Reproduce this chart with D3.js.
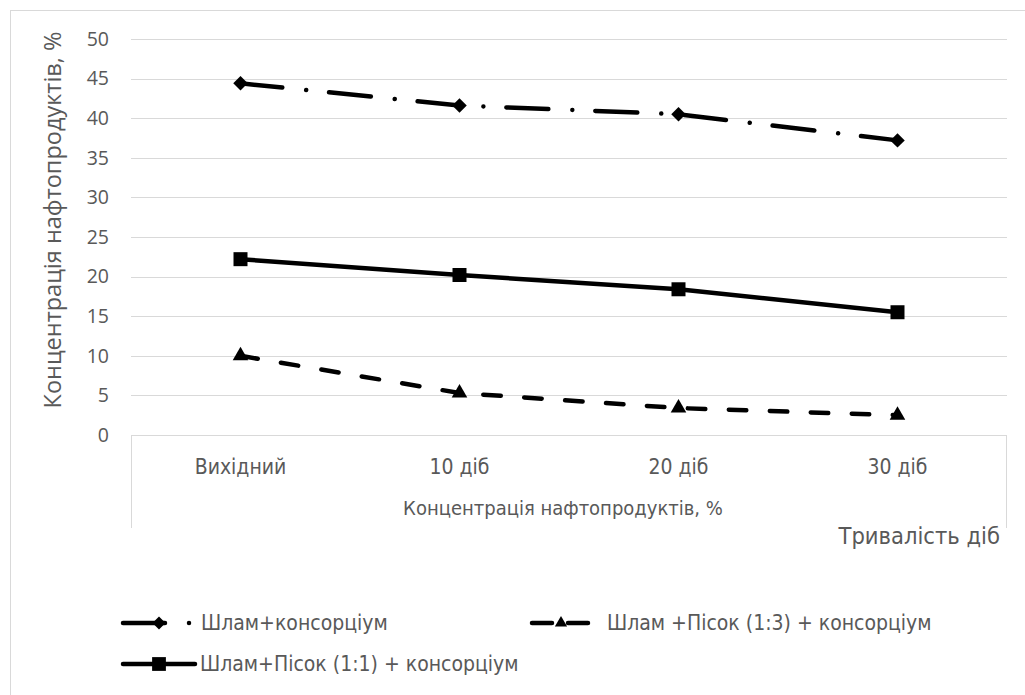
<!DOCTYPE html>
<meta charset="utf-8">
<script src="https://cdn.jsdelivr.net/npm/d3@7"></script>
<style>
body { margin: 0; background: #fff; }
.axis-text { fill: #595959; }
.tick-y { font-family: "Open Sans", sans-serif; font-size: 19.5px; }
.title-y { font-family: "Open Sans", sans-serif; font-size: 23.5px; }
.cat { font-family: "Liberation Sans Narrow", "DejaVu Sans Condensed", sans-serif; font-size: 21px; }
.cat-title { font-family: "Liberation Sans Narrow", "DejaVu Sans Condensed", sans-serif; font-size: 20px; }
.cat-title2 { font-family: "Liberation Sans Narrow", "DejaVu Sans Condensed", sans-serif; font-size: 23.5px; }
.leg { font-family: "Liberation Sans Narrow", "DejaVu Sans Condensed", sans-serif; font-size: 21px; fill: #595959; }
</style>
<body>
<div id="chart"></div>
<script>
// ---------------- data ----------------
const categories = ["Вихідний", "10 діб", "20 діб", "30 діб"];
const yTicks = [0, 5, 10, 15, 20, 25, 30, 35, 40, 45, 50];
const slamValues = [44.4, 41.6, 40.5, 37.2];        // Шлам+консорціум
const sand13Values = [10.0, 5.3, 3.4, 2.5];         // Шлам +Пісок (1:3) + консорціум
const sand11Values = [22.2, 20.2, 18.4, 15.5];      // Шлам+Пісок (1:1) + консорціум
const seriesNames = ["Шлам+консорціум", "Шлам +Пісок (1:3) + консорціум", "Шлам+Пісок (1:1) + консорціум"];
const yTitle = "Концентрація нафтопродуктів, %";
const xTitle = "Концентрація нафтопродуктів, %";
const xTitle2 = "Тривалість діб";

// ---------------- layout ----------------
const W = 1025, H = 695;
const plot = {left: 131, right: 1007, top: 39, bottom: 435};
const lineW = 4.5;

const series = [
  {name: seriesNames[0], values: slamValues, dash: "42,24,0.01,23", marker: "diamond", legDash: "42,24,0.01,23", legOffset: 0, textDx: 78},
  {name: seriesNames[1], values: sand13Values, dash: "17.5,23.5", marker: "triangle", legDash: "20,16", legOffset: -7, textDx: 82},
  {name: seriesNames[2], values: sand11Values, dash: null, marker: "square", legDash: null, legOffset: 0, textDx: 77}
];

const svg = d3.select("#chart").append("svg")
    .attr("width", W)
    .attr("height", H);

// chart border (only top and left edges fall inside the picture)
svg.append("rect")
    .attr("x", 10.5).attr("y", 10.5)
    .attr("width", W + 20).attr("height", H + 20)
    .attr("fill", "#fff")
    .attr("stroke", "#d9d9d9");

const x = d3.scaleBand().domain(categories).range([plot.left, plot.right]);
const y = d3.scaleLinear().domain([0, 50]).range([plot.bottom, plot.top]);
const cx = c => x(c) + x.bandwidth() / 2;

// gridlines
svg.append("g")
  .selectAll("line")
  .data(yTicks)
  .enter().append("line")
    .attr("x1", plot.left).attr("x2", plot.right)
    .attr("y1", d => Math.round(y(d)) + 0.5)
    .attr("y2", d => Math.round(y(d)) + 0.5)
    .attr("stroke", "#d9d9d9")
    .attr("stroke-width", 1);

// y tick labels
svg.append("g")
  .selectAll("text")
  .data(yTicks)
  .enter().append("text")
    .attr("class", "axis-text tick-y")
    .attr("x", 109)
    .attr("y", d => y(d))
    .attr("dy", "0.35em")
    .attr("text-anchor", "end")
    .text(d => d);

// y title
svg.append("text")
    .attr("class", "axis-text title-y")
    .attr("transform", "translate(61,220) rotate(-90)")
    .attr("text-anchor", "middle")
    .text(yTitle);

// category box (multi level axis)
const box = svg.append("g").attr("stroke", "#d9d9d9").attr("stroke-width", 1);
box.append("line").attr("x1", plot.left + 0.5).attr("x2", plot.left + 0.5).attr("y1", plot.bottom).attr("y2", 528);
box.append("line").attr("x1", plot.right - 0.5).attr("x2", plot.right - 0.5).attr("y1", plot.bottom).attr("y2", 528);

svg.append("g")
  .selectAll("text")
  .data(categories)
  .enter().append("text")
    .attr("class", "axis-text cat")
    .attr("x", d => cx(d))
    .attr("y", 474)
    .attr("text-anchor", "middle")
    .text(d => d);

svg.append("text")
    .attr("class", "axis-text cat-title")
    .attr("x", (plot.left + plot.right) / 2 - 6)
    .attr("y", 515)
    .attr("text-anchor", "middle")
    .text(xTitle);

svg.append("text")
    .attr("class", "axis-text cat-title2")
    .attr("x", 1000)
    .attr("y", 544)
    .attr("text-anchor", "end")
    .text(xTitle2);

// ---------------- lines ----------------
const line = d3.line()
    .x((d, i) => cx(categories[i]))
    .y(d => y(d));

function markerPath(type, big) {
  if (type === "diamond") return d3.symbol(d3.symbolSquare, big ? 105 : 85)();
  if (type === "triangle") return d3.symbol(d3.symbolTriangle, big ? 105 : 65)();
  return d3.symbol(d3.symbolSquare, big ? 196 : 190)();
}
function markerRot(type) { return type === "diamond" ? " rotate(45)" : ""; }

const g = svg.append("g");
series.forEach(s => {
  g.append("path")
    .attr("d", line(s.values))
    .attr("fill", "none")
    .attr("stroke", "#000")
    .attr("stroke-width", lineW)
    .attr("stroke-linecap", s.dash ? "round" : "butt")
    .attr("stroke-linejoin", "round")
    .attr("stroke-dasharray", s.dash);
  g.selectAll(null)
    .data(s.values)
    .enter().append("path")
      .attr("d", markerPath(s.marker, true))
      .attr("transform", (d, i) => "translate(" + cx(categories[i]) + "," + y(d) + ")" + markerRot(s.marker))
      .attr("fill", "#000");
});

// ---------------- legend ----------------
const legPos = [[123, 623], [525, 623], [123, 664]];
series.forEach((s, i) => {
  const [lx, ly] = legPos[i];
  const lg = svg.append("g").attr("transform", "translate(" + lx + "," + ly + ")");
  lg.append("path")
    .attr("d", "M0,0H72")
    .attr("stroke", "#000")
    .attr("stroke-width", lineW)
    .attr("stroke-linecap", "round")
    .attr("stroke-dasharray", s.legDash)
    .attr("stroke-dashoffset", s.legOffset);
  lg.append("path")
    .attr("d", markerPath(s.marker, false))
    .attr("transform", "translate(36,0)" + markerRot(s.marker))
    .attr("fill", "#000");
  lg.append("text")
    .attr("class", "leg")
    .attr("x", s.textDx)
    .attr("dy", "0.35em")
    .text(s.name);
});
</script>
</body>
